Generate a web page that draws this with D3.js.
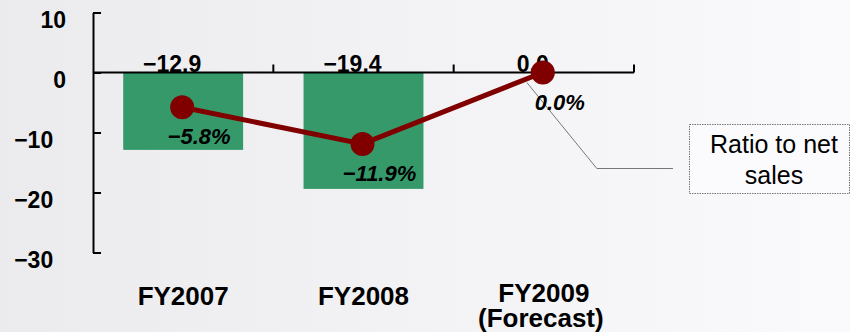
<!DOCTYPE html>
<html>
<head>
<meta charset="utf-8">
<script src="https://cdn.jsdelivr.net/npm/d3@7"></script>
<style>
  body { margin: 0; }
  svg { display: block; font-family: "Liberation Sans", Arial, sans-serif; }
</style>
</head>
<body>
<svg id="chart" width="850" height="332"></svg>
<script>
// chart data
const categories = ['FY2007', 'FY2008', 'FY2009'];
const catNotes = ['', '', '(Forecast)'];
const operatingIncome = [-12.9, -19.4, 0.0];
const ratioToSales = [-5.8, -11.9, 0.0];
const yTicks = [10, 0, -10, -20, -30];
const calloutLines = ['Ratio to net', 'sales'];

const barColor = '#35996a';
const lineColor = '#800000';

const svg = d3.select('#chart');

// background gradient
const grad = svg.append('defs').append('linearGradient')
  .attr('id', 'bg').attr('x1', 0).attr('x2', 1).attr('y1', 0).attr('y2', 0);
grad.append('stop').attr('offset', '0%').attr('stop-color', '#ebebed');
grad.append('stop').attr('offset', '100%').attr('stop-color', '#fafafc');
svg.append('rect').attr('width', 850).attr('height', 332).attr('fill', 'url(#bg)');

// scales
const x = d3.scaleBand().domain(categories).range([93, 634]).padding(0);
const y = d3.scaleLinear().domain([-30, 10]).range([252.5, 12.5]);
const barW = x.bandwidth() * 0.665;
const cx = d => x(d) + x.bandwidth() / 2;

// bars
svg.selectAll('rect.bar')
  .data(categories)
  .enter().append('rect')
  .attr('class', 'bar')
  .attr('x', d => cx(d) - barW / 2)
  .attr('width', barW)
  .attr('y', (d, i) => y(Math.max(0, operatingIncome[i])))
  .attr('height', (d, i) => Math.abs(y(operatingIncome[i]) - y(0)))
  .attr('fill', barColor);

// y axis
const fmt = d3.format('.0f');
const yAxis = d3.axisLeft(y)
  .tickValues(yTicks)
  .tickSize(-8)
  .tickSizeOuter(0)
  .tickPadding(27)
  .tickFormat(d => d < 0 ? fmt(d) + '\u2007' : fmt(d));

const gy = svg.append('g')
  .attr('transform', 'translate(93,0)')
  .call(yAxis);
gy.selectAll('path, line').attr('stroke', '#000').attr('stroke-width', 2);
gy.selectAll('text')
  .attr('dy', '0.66em')
  .attr('fill', '#000')
  .style('font-size', '23px')
  .style('font-weight', 'bold');

// zero line with category boundary ticks
svg.append('line')
  .attr('x1', 93).attr('x2', x.range()[1])
  .attr('y1', y(0)).attr('y2', y(0))
  .attr('stroke', '#000').attr('stroke-width', 2);
svg.selectAll('line.cat-tick')
  .data(categories)
  .enter().append('line')
  .attr('class', 'cat-tick')
  .attr('x1', d => x(d) + x.bandwidth()).attr('x2', d => x(d) + x.bandwidth())
  .attr('y1', y(0)).attr('y2', y(0) - 8)
  .attr('stroke', '#000').attr('stroke-width', 2);

// bar value labels
svg.selectAll('text.bar-label')
  .data(categories)
  .enter().append('text')
  .attr('class', 'bar-label')
  .attr('x', d => cx(d) - 11)
  .attr('y', y(0) - 1)
  .attr('text-anchor', 'middle')
  .style('font-size', '23px')
  .style('font-weight', 'bold')
  .text((d, i) => d3.format('.1f')(operatingIncome[i]));

// callout connector (drawn under the line)
const lastCat = categories[categories.length - 1];
const lastY = y(ratioToSales[ratioToSales.length - 1]);
svg.append('polyline')
  .attr('points', [
    [cx(lastCat) - 17, lastY + 10],
    [cx(lastCat) + 53, lastY + 96],
    [673, lastY + 96]
  ].map(p => p.join(',')).join(' '))
  .attr('fill', 'none')
  .attr('stroke', '#777')
  .attr('stroke-width', 1);

// ratio line
const line = d3.line()
  .x((d, i) => cx(categories[i]) - 1)
  .y(d => y(d));

svg.append('path')
  .datum(ratioToSales)
  .attr('d', line)
  .attr('fill', 'none')
  .attr('stroke', lineColor)
  .attr('stroke-width', 5);

svg.selectAll('circle.pt')
  .data(ratioToSales)
  .enter().append('circle')
  .attr('class', 'pt')
  .attr('cx', (d, i) => cx(categories[i]) - 1)
  .attr('cy', d => y(d))
  .attr('r', 12)
  .attr('fill', lineColor);

svg.selectAll('text.pct')
  .data(ratioToSales)
  .enter().append('text')
  .attr('class', 'pct')
  .attr('x', (d, i) => cx(categories[i]) + 16)
  .attr('y', d => y(d) + 37)
  .attr('text-anchor', 'middle')
  .style('font-size', '22px')
  .style('font-weight', 'bold')
  .style('font-style', 'italic')
  .text(d => d3.format('.1f')(d) + '%');

// category labels
const catLabels = svg.selectAll('text.cat')
  .data(categories)
  .enter().append('text')
  .attr('class', 'cat')
  .attr('text-anchor', 'middle')
  .style('font-size', '26px')
  .style('font-weight', 'bold');
catLabels.append('tspan')
  .attr('x', d => cx(d))
  .attr('y', (d, i) => catNotes[i] ? 302 : 305)
  .text(d => d);
catLabels.append('tspan')
  .attr('x', d => cx(d) - 3)
  .attr('y', 327)
  .text((d, i) => catNotes[i]);

// callout box
svg.append('rect')
  .attr('x', 689.5).attr('y', 124.5)
  .attr('width', 160).attr('height', 69)
  .attr('fill', '#fbfbfd')
  .attr('stroke', '#777')
  .attr('stroke-width', 1)
  .attr('stroke-dasharray', '1.5,1');

svg.selectAll('text.callout')
  .data(calloutLines)
  .enter().append('text')
  .attr('class', 'callout')
  .attr('x', 774)
  .attr('y', (d, i) => 153 + i * 31)
  .attr('text-anchor', 'middle')
  .style('font-size', '25px')
  .text(d => d);
</script>
</body>
</html>
